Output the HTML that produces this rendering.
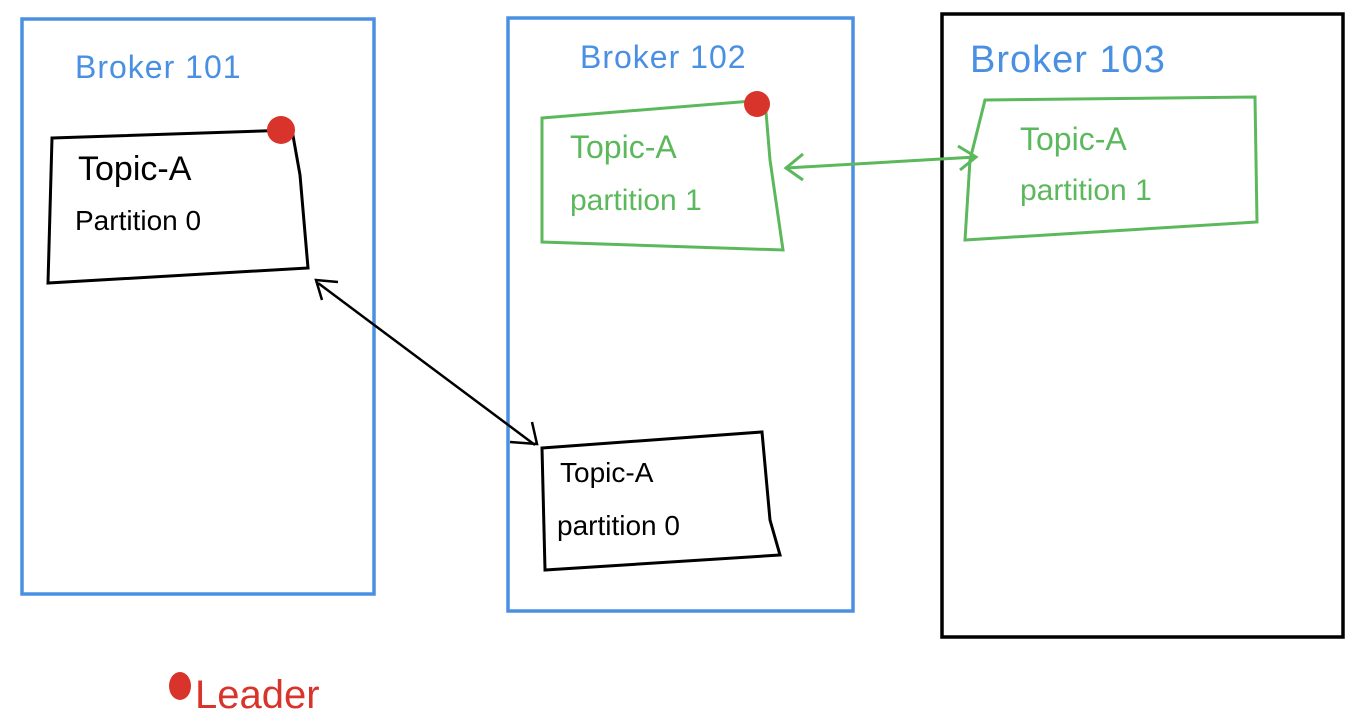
<!DOCTYPE html>
<html><head><meta charset="utf-8"><style>
html,body{margin:0;padding:0;background:#fff;}
svg{display:block}
text{font-family:"Liberation Sans",sans-serif;}
</style></head><body>
<svg width="1360" height="724" viewBox="0 0 1360 724" xmlns="http://www.w3.org/2000/svg">
<rect width="1360" height="724" fill="#fff"/>
<!-- broker boxes -->
<rect x="22" y="19" width="352" height="575" fill="none" stroke="#4a90e2" stroke-width="3.5"/>
<rect x="508" y="18" width="345" height="593" fill="none" stroke="#4a90e2" stroke-width="3.5"/>
<rect x="942" y="14" width="401" height="623" fill="none" stroke="#000" stroke-width="3.5"/>
<text x="75" y="78" font-size="32" fill="#4a90e2" letter-spacing="1">Broker 101</text>
<text x="580" y="68" font-size="32" fill="#4a90e2" letter-spacing="1">Broker 102</text>
<text x="970" y="72" font-size="38" fill="#4a90e2" letter-spacing="1">Broker 103</text>
<!-- partition 0 leader -->
<path d="M52 138 L292 130 L300 175 L308 268 L48 283 Z" fill="none" stroke="#000" stroke-width="3"/>
<circle cx="281" cy="130" r="14" fill="#d9342b"/>
<text x="78" y="180" font-size="34" fill="#000">Topic-A</text>
<text x="75" y="230" font-size="28" fill="#000">Partition 0</text>
<!-- green partition 1 leader -->
<path d="M542 118 L765 100 L770 160 L783 250 L542 242 Z" fill="none" stroke="#5cb85c" stroke-width="3"/>
<circle cx="757" cy="104" r="13" fill="#d9342b"/>
<text x="570" y="158" font-size="32" fill="#5cb85c">Topic-A</text>
<text x="570" y="210" font-size="30" fill="#5cb85c">partition 1</text>
<!-- green partition 1 follower -->
<path d="M985 100 L1255 97 L1257 222 L965 240 L970 160 Z" fill="none" stroke="#5cb85c" stroke-width="3"/>
<text x="1020" y="150" font-size="32" fill="#5cb85c">Topic-A</text>
<text x="1020" y="200" font-size="30" fill="#5cb85c">partition 1</text>
<!-- black partition 0 follower -->
<path d="M542 448 L762 432 L770 520 L780 555 L545 570 Z" fill="none" stroke="#000" stroke-width="3"/>
<text x="560" y="482" font-size="28" fill="#000">Topic-A</text>
<text x="557" y="535" font-size="28" fill="#000">partition 0</text>
<!-- arrows -->
<line x1="318" y1="283" x2="535" y2="445" stroke="#000" stroke-width="2.5"/>
<path d="M322 300 L316 280 L338 282" fill="none" stroke="#000" stroke-width="2.5"/>
<path d="M510 442 L537 444 L532 422" fill="none" stroke="#000" stroke-width="2.5"/>
<line x1="786" y1="168" x2="976" y2="157" stroke="#5cb85c" stroke-width="3"/>
<path d="M803 154 L786 168 L803 180" fill="none" stroke="#5cb85c" stroke-width="3"/>
<path d="M958 146 L976 157 L960 170" fill="none" stroke="#5cb85c" stroke-width="3"/>
<!-- legend -->
<ellipse cx="180" cy="686" rx="11" ry="14" fill="#d9342b"/>
<text x="195" y="708" font-size="40" fill="#d9342b">Leader</text>
</svg>
</body></html>
